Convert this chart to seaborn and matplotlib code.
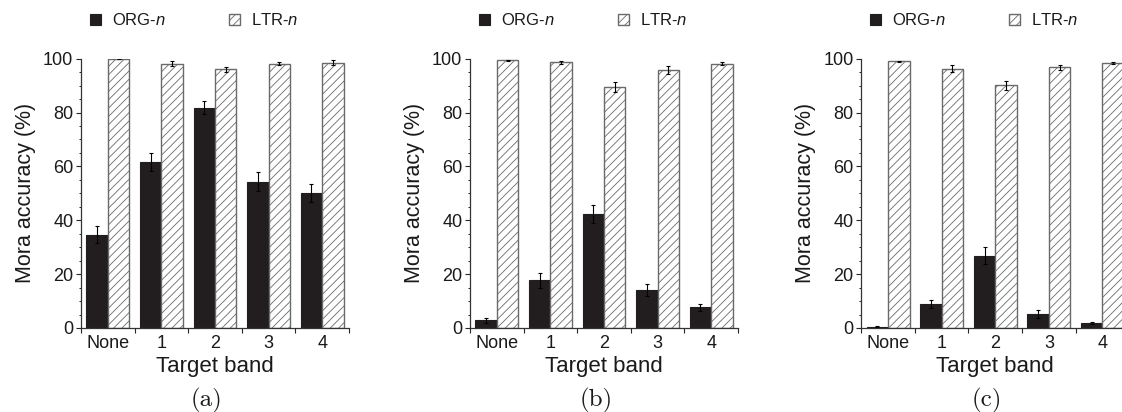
import numpy as np
import pandas as pd
import matplotlib
matplotlib.use("Agg")
import matplotlib.pyplot as plt
import seaborn as sns
from matplotlib.ticker import MultipleLocator, FixedLocator, NullFormatter

# ---------------- data ----------------
bands = ["None", "1", "2", "3", "4"]
series = ["ORG", "LTR"]
series_labels = ["ORG-$n$", "LTR-$n$"]
panel_captions = ["(a)", "(b)", "(c)"]

org_a = [34.7, 61.6, 81.8, 54.3, 50.1]
org_a_err = [3.3, 3.3, 2.4, 3.6, 3.4]
ltr_a = [100.0, 98.1, 96.0, 98.1, 98.5]
ltr_a_err = [0.1, 0.9, 1.0, 0.6, 1.0]

org_b = [2.8, 17.7, 42.3, 14.2, 7.7]
org_b_err = [0.9, 2.7, 3.4, 2.2, 1.3]
ltr_b = [99.4, 98.6, 89.6, 95.9, 98.1]
ltr_b_err = [0.3, 0.7, 1.9, 1.5, 0.6]

org_c = [0.5, 8.8, 26.9, 5.3, 1.9]
org_c_err = [0.2, 1.5, 3.1, 1.5, 0.4]
ltr_c = [99.0, 96.3, 90.2, 96.8, 98.5]
ltr_c_err = [0.3, 1.35, 1.7, 1.0, 0.4]

panels = [
    (org_a, org_a_err, ltr_a, ltr_a_err),
    (org_b, org_b_err, ltr_b, ltr_b_err),
    (org_c, org_c_err, ltr_c, ltr_c_err),
]

# ---------------- style ----------------
sns.set_style("ticks")
plt.rcParams["font.family"] = ["Liberation Sans", "DejaVu Sans"]
plt.rcParams["mathtext.fontset"] = "custom"
plt.rcParams["mathtext.rm"] = "Liberation Sans"
plt.rcParams["mathtext.it"] = "Liberation Sans:italic"
plt.rcParams["hatch.linewidth"] = 0.6
plt.rcParams["axes.linewidth"] = 0.9

BLACK = "#221e1f"
GREY = "#6a6a6a"
TEXT = "#1a1a1a"

fig = plt.figure(figsize=(11.22, 4.12), dpi=100)
lefts = [81 / 1122, 470 / 1122, 861.3 / 1122]
width = 268 / 1122
bottom = 1 - 328 / 412
height = (328 - 58.7) / 412

for i, (org, org_err, ltr, ltr_err) in enumerate(panels):
    ax = fig.add_axes([lefts[i], bottom, width, height])
    df = pd.DataFrame({
        "band": bands * 2,
        "series": [series[0]] * len(bands) + [series[1]] * len(bands),
        "value": list(org) + list(ltr),
    })
    sns.barplot(data=df, x="band", y="value", hue="series", order=bands,
                hue_order=series, palette=[BLACK, "white"], errorbar=None,
                width=0.8, ax=ax, legend=False, saturation=1)
    bar_containers = list(ax.containers)
    for p in bar_containers[0].patches:
        p.set_facecolor(BLACK)
        p.set_edgecolor(BLACK)
        p.set_linewidth(0.8)
    for p in bar_containers[1].patches:
        p.set_facecolor("white")
        p.set_edgecolor(GREY)
        p.set_hatch("////")
        p.set_linewidth(1.0)
    for cont, err in zip(bar_containers, [org_err, ltr_err]):
        xs = [p.get_x() + p.get_width() / 2 for p in cont.patches]
        ys = [p.get_height() for p in cont.patches]
        ax.errorbar(xs, ys, yerr=err, fmt="none", ecolor="black",
                    elinewidth=0.8, capsize=1.6, capthick=0.8)

    ax.set_xlim(-0.5, len(bands) - 0.5)
    ax.set_ylim(0, 100)
    ax.yaxis.set_major_locator(MultipleLocator(20))
    ax.yaxis.set_minor_locator(MultipleLocator(5))
    ax.xaxis.set_minor_locator(FixedLocator(np.arange(-0.5, len(bands), 1.0)))
    ax.xaxis.set_minor_formatter(NullFormatter())
    ax.tick_params(axis="x", which="major", length=0, pad=5, labelsize=13,
                   labelcolor=TEXT)
    ax.tick_params(axis="x", which="minor", length=3.5, width=0.8, direction="out")
    ax.tick_params(axis="y", which="major", length=3.5, width=0.8, direction="out",
                   pad=2, labelsize=13, labelcolor=TEXT)
    ax.tick_params(axis="y", which="minor", length=1.8, width=0.7, direction="out")
    sns.despine(ax=ax)
    for s in ["left", "bottom"]:
        ax.spines[s].set_color("#333333")

    ax.set_xlabel("Target band", fontsize=16, labelpad=3, color=TEXT)
    ax.set_ylabel("Mora accuracy (%)", fontsize=15.5, labelpad=5, color=TEXT)

    ax.legend(handles=bar_containers, labels=series_labels, loc="center left",
              bbox_to_anchor=(0.034, 1.144), ncol=2, frameon=False, fontsize=12,
              handlelength=0.65, handleheight=0.65, handletextpad=0.66,
              columnspacing=3.8, borderpad=0, borderaxespad=0,
              labelcolor=TEXT)

    ax.text(0.47, -0.27, panel_captions[i], transform=ax.transAxes,
            ha="center", va="center", fontfamily="cmr10", fontsize=18,
            color=TEXT)

fig.savefig("out.png", dpi=100, facecolor="white")
